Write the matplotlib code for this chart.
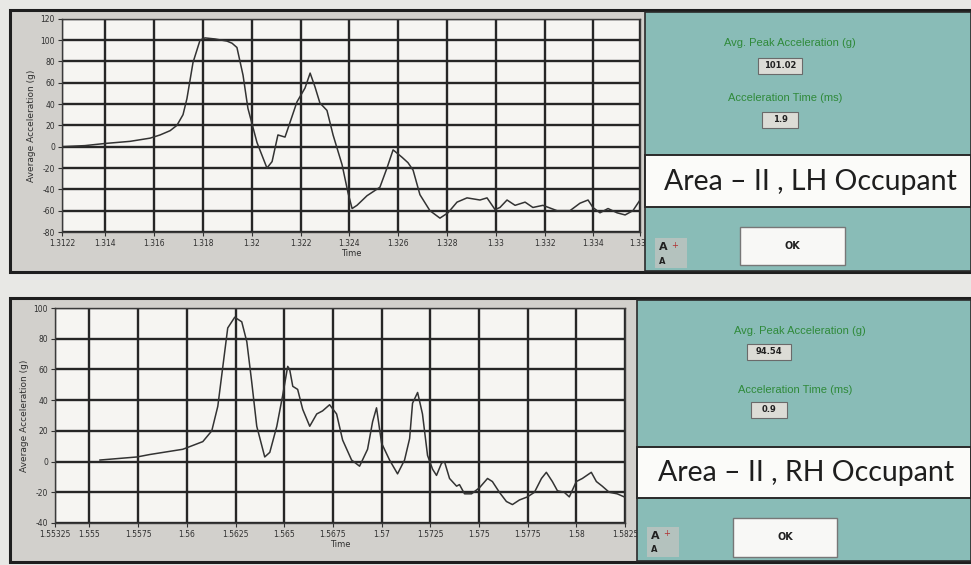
import matplotlib
matplotlib.use("Agg")
import matplotlib.pyplot as plt
from matplotlib.patches import Rectangle

# ---------------- data ----------------
top_time = [1.31222, 1.31316, 1.31398, 1.31501, 1.31583, 1.31624, 1.31665, 1.31693, 1.31718, 1.31734,
            1.31759, 1.31788, 1.31808, 1.31849, 1.31898, 1.31919, 1.31939, 1.31964, 1.31984, 1.32021,
            1.32062, 1.32083, 1.32107, 1.32136, 1.32148, 1.32185, 1.32218, 1.32239, 1.32259, 1.32279,
            1.32308, 1.32333, 1.32370, 1.32394, 1.32411, 1.32431, 1.32472, 1.32525, 1.32554, 1.32579,
            1.32616, 1.32640, 1.32661, 1.32689, 1.32730, 1.32771, 1.32804, 1.32841, 1.32882, 1.32935,
            1.32964, 1.32997, 1.33017, 1.33046, 1.33079, 1.33120, 1.33152, 1.33193, 1.33251, 1.33304,
            1.33345, 1.33378, 1.33398, 1.33427, 1.33460, 1.33497, 1.33530, 1.33562, 1.33591]
top_acc = [0, 1, 3, 5, 8, 11, 15, 20, 30, 45,
           79, 100, 102, 101, 99, 97, 93, 67, 36, 4,
           -20, -14, 11, 9, 17, 42, 55, 69, 56, 41,
           34, 11, -17, -43, -58, -55, -46, -38, -20, -3,
           -10, -15, -22, -45, -60, -67, -62, -52, -48, -50,
           -48, -59, -57, -50, -55, -52, -57, -55, -60, -60,
           -53, -50, -57, -62, -58, -62, -64, -60, -50]

bot_time = [1.55554, 1.55744, 1.55810, 1.55979, 1.56041, 1.56082, 1.56128, 1.56159, 1.56185, 1.56210,
            1.56246, 1.56282, 1.56308, 1.56333, 1.56359, 1.56400, 1.56426, 1.56462, 1.56492, 1.56518,
            1.56528, 1.56544, 1.56569, 1.56595, 1.56631, 1.56667, 1.56697, 1.56733, 1.56769, 1.56800,
            1.56846, 1.56887, 1.56928, 1.56954, 1.56974, 1.57000, 1.57041, 1.57082, 1.57118, 1.57144,
            1.57159, 1.57185, 1.57210, 1.57236, 1.57262, 1.57282, 1.57308, 1.57323, 1.57349, 1.57385,
            1.57400, 1.57426, 1.57462, 1.57503, 1.57544, 1.57569, 1.57605, 1.57641, 1.57672, 1.57708,
            1.57749, 1.57785, 1.57821, 1.57846, 1.57877, 1.57903, 1.57938, 1.57964, 1.58000, 1.58031,
            1.58077, 1.58103, 1.58133, 1.58169, 1.58210, 1.58246]
bot_acc = [1, 3, 4.6, 8, 11, 13, 20, 36, 62, 87,
           94, 91, 78, 52, 23, 3, 6, 23, 43, 62,
           60, 49, 47, 34, 23, 31, 33, 37, 31, 14,
           1, -3, 8, 26, 35, 12, 1, -8, 1, 15,
           38, 45, 31, 4, -5, -9, -1, 0, -11, -16,
           -15, -21, -21, -17, -11, -13, -20, -26, -28, -25,
           -23, -20, -11, -7, -13, -19, -20, -23, -13, -11,
           -7, -13, -16, -20, -21, -23]

top_xticks = [1.31222, 1.314, 1.316, 1.318, 1.32, 1.322, 1.324, 1.326, 1.328, 1.33, 1.332, 1.334, 1.33591]
top_xlabels = ["1.3122", "1.314", "1.316", "1.318", "1.32", "1.322", "1.324", "1.326", "1.328",
               "1.33", "1.332", "1.334", "1.336"]
top_yticks = [-80, -60, -40, -20, 0, 20, 40, 60, 80, 100, 120]

bot_xticks = [1.55323, 1.555, 1.5575, 1.56, 1.5625, 1.565, 1.5675, 1.57, 1.5725, 1.575, 1.5775, 1.58, 1.5825]
bot_xlabels = ["1.55325", "1.555", "1.5575", "1.56", "1.5625", "1.565", "1.5675", "1.57", "1.5725",
               "1.575", "1.5775", "1.58", "1.5825"]
bot_yticks = [-40, -20, 0, 20, 40, 60, 80, 100]

panels = [
    {"peak": "101.02", "time": "1.9", "label": "Area \u2013 II , LH Occupant"},
    {"peak": "94.54", "time": "0.9", "label": "Area \u2013 II , RH Occupant"},
]

# ---------------- figure ----------------
W, H = 971, 565
fig = plt.figure(figsize=(W / 100, H / 100), dpi=100)
fig.patch.set_facecolor("#e8e8e5")

def fx(x):
    return x / W

def fy(y):
    return 1 - y / H

def rect(x0, y0, x1, y1, fc, ec="none", lw=0, z=0):
    r = Rectangle((fx(x0), fy(y1)), fx(x1) - fx(x0), fy(y0) - fy(y1),
                  transform=fig.transFigure, facecolor=fc, edgecolor=ec,
                  linewidth=lw, zorder=z)
    fig.add_artist(r)

def text(x, y, s, **kw):
    fig.text(fx(x), fy(y), s, **kw)

TEAL = "#89bcb7"
GRAYF = "#d2d0cc"
GREEN = "#2f8a3a"

def panel(y0, y1, split, plot_box, t, a, xt, xl, yt, ylim, info, geo):
    # outer frame
    rect(10, y0, 971, y1, GRAYF, ec="#1e1e1e", lw=2.2, z=0)
    # teal panel
    rect(split, y0 + 2, 971, y1 - 1, TEAL, ec="#2a2a2a", lw=1.2, z=1)
    px0, py0, px1, py1 = plot_box
    ax = fig.add_axes([fx(px0), fy(py1), fx(px1) - fx(px0), fy(py0) - fy(py1)])
    ax.set_facecolor("#f6f5f2")
    ax.plot(t, a, color="#333333", lw=1.1, zorder=3)
    ax.set_xlim(xt[0], xt[-1])
    ax.set_ylim(*ylim)
    ax.set_xticks(xt)
    ax.set_xticklabels(xl)
    ax.set_yticks(yt)
    ax.set_yticklabels([str(v) for v in yt])
    ax.grid(True, color="#262626", lw=1.7)
    ax.tick_params(labelsize=5.5, length=3, width=0.8, colors="#303030", pad=2)
    for s in ax.spines.values():
        s.set_color("#3a3a3a")
        s.set_linewidth(1.0)
    ax.set_xlabel("Time", fontsize=6, color="#303030", labelpad=1)
    ax.set_ylabel("Average Acceleration (g)", fontsize=6.5, color="#303030", labelpad=3)
    # teal texts
    cx = geo["cx"]
    text(cx, geo["t1"], "Avg. Peak Acceleration (g)", fontsize=8, color=GREEN,
         ha="center", va="center", family="Liberation Sans", zorder=5)
    bx = geo["bx"]
    rect(bx - 22, geo["b1"] - 8, bx + 22, geo["b1"] + 8, "#dcdcd6", ec="#6a6a6a", lw=0.8, z=4)
    text(bx, geo["b1"], info["peak"], fontsize=6, fontweight="bold", color="#202020",
         ha="center", va="center", zorder=5)
    text(cx - 5, geo["t2"], "Acceleration Time (ms)", fontsize=8, color=GREEN,
         ha="center", va="center", family="Liberation Sans", zorder=5)
    rect(bx - 18, geo["b2"] - 8, bx + 18, geo["b2"] + 8, "#dcdcd6", ec="#6a6a6a", lw=0.8, z=4)
    text(bx, geo["b2"], info["time"], fontsize=6, fontweight="bold", color="#202020",
         ha="center", va="center", zorder=5)
    # white label box
    rect(split, geo["l0"], 971, geo["l1"], "#fbfbf9", ec="#2a2a2a", lw=1.4, z=4)
    text((split + 971) / 2 + 2, (geo["l0"] + geo["l1"]) / 2 + 1, info["label"], fontsize=20.5,
         color="#1e1e1e", ha="center", va="center", family="Lato", zorder=5)
    # OK button
    ox0, oy0, ox1, oy1 = geo["ok"]
    rect(ox0, oy0, ox1, oy1, "#f8f8f6", ec="#777777", lw=1.0, z=4)
    text((ox0 + ox1) / 2, (oy0 + oy1) / 2, "OK", fontsize=7, fontweight="bold",
         color="#202020", ha="center", va="center", zorder=5)
    # small font icon
    ix, iy = geo["icon"]
    rect(ix - 4, iy - 14, ix + 28, iy + 16, "#b4c2be", z=4)
    text(ix, iy - 5, "A", fontsize=8, fontweight="bold", color="#202020", ha="left", va="center", zorder=5)
    text(ix + 12, iy - 7, "+", fontsize=6, color="#b03030", ha="left", va="center", zorder=5)
    text(ix, iy + 9, "A", fontsize=6, fontweight="bold", color="#202020", ha="left", va="center", zorder=5)
    return ax

panel(10, 272, 645, (62, 18.7, 640, 232), top_time, top_acc, top_xticks, top_xlabels,
      top_yticks, (-80, 120), panels[0],
      {"cx": 790, "t1": 43, "bx": 780, "b1": 66, "t2": 98, "b2": 120,
       "l0": 155, "l1": 207, "ok": (740, 227, 845, 265), "icon": (659, 252)})

panel(298, 562, 637, (55, 308, 625, 523), bot_time, bot_acc, bot_xticks, bot_xlabels,
      bot_yticks, (-40, 100), panels[1],
      {"cx": 800, "t1": 331, "bx": 769, "b1": 352, "t2": 390, "b2": 410,
       "l0": 447, "l1": 498, "ok": (733, 518, 837, 557), "icon": (651, 541)})

fig.savefig("out.png", dpi=100, facecolor=fig.get_facecolor())
